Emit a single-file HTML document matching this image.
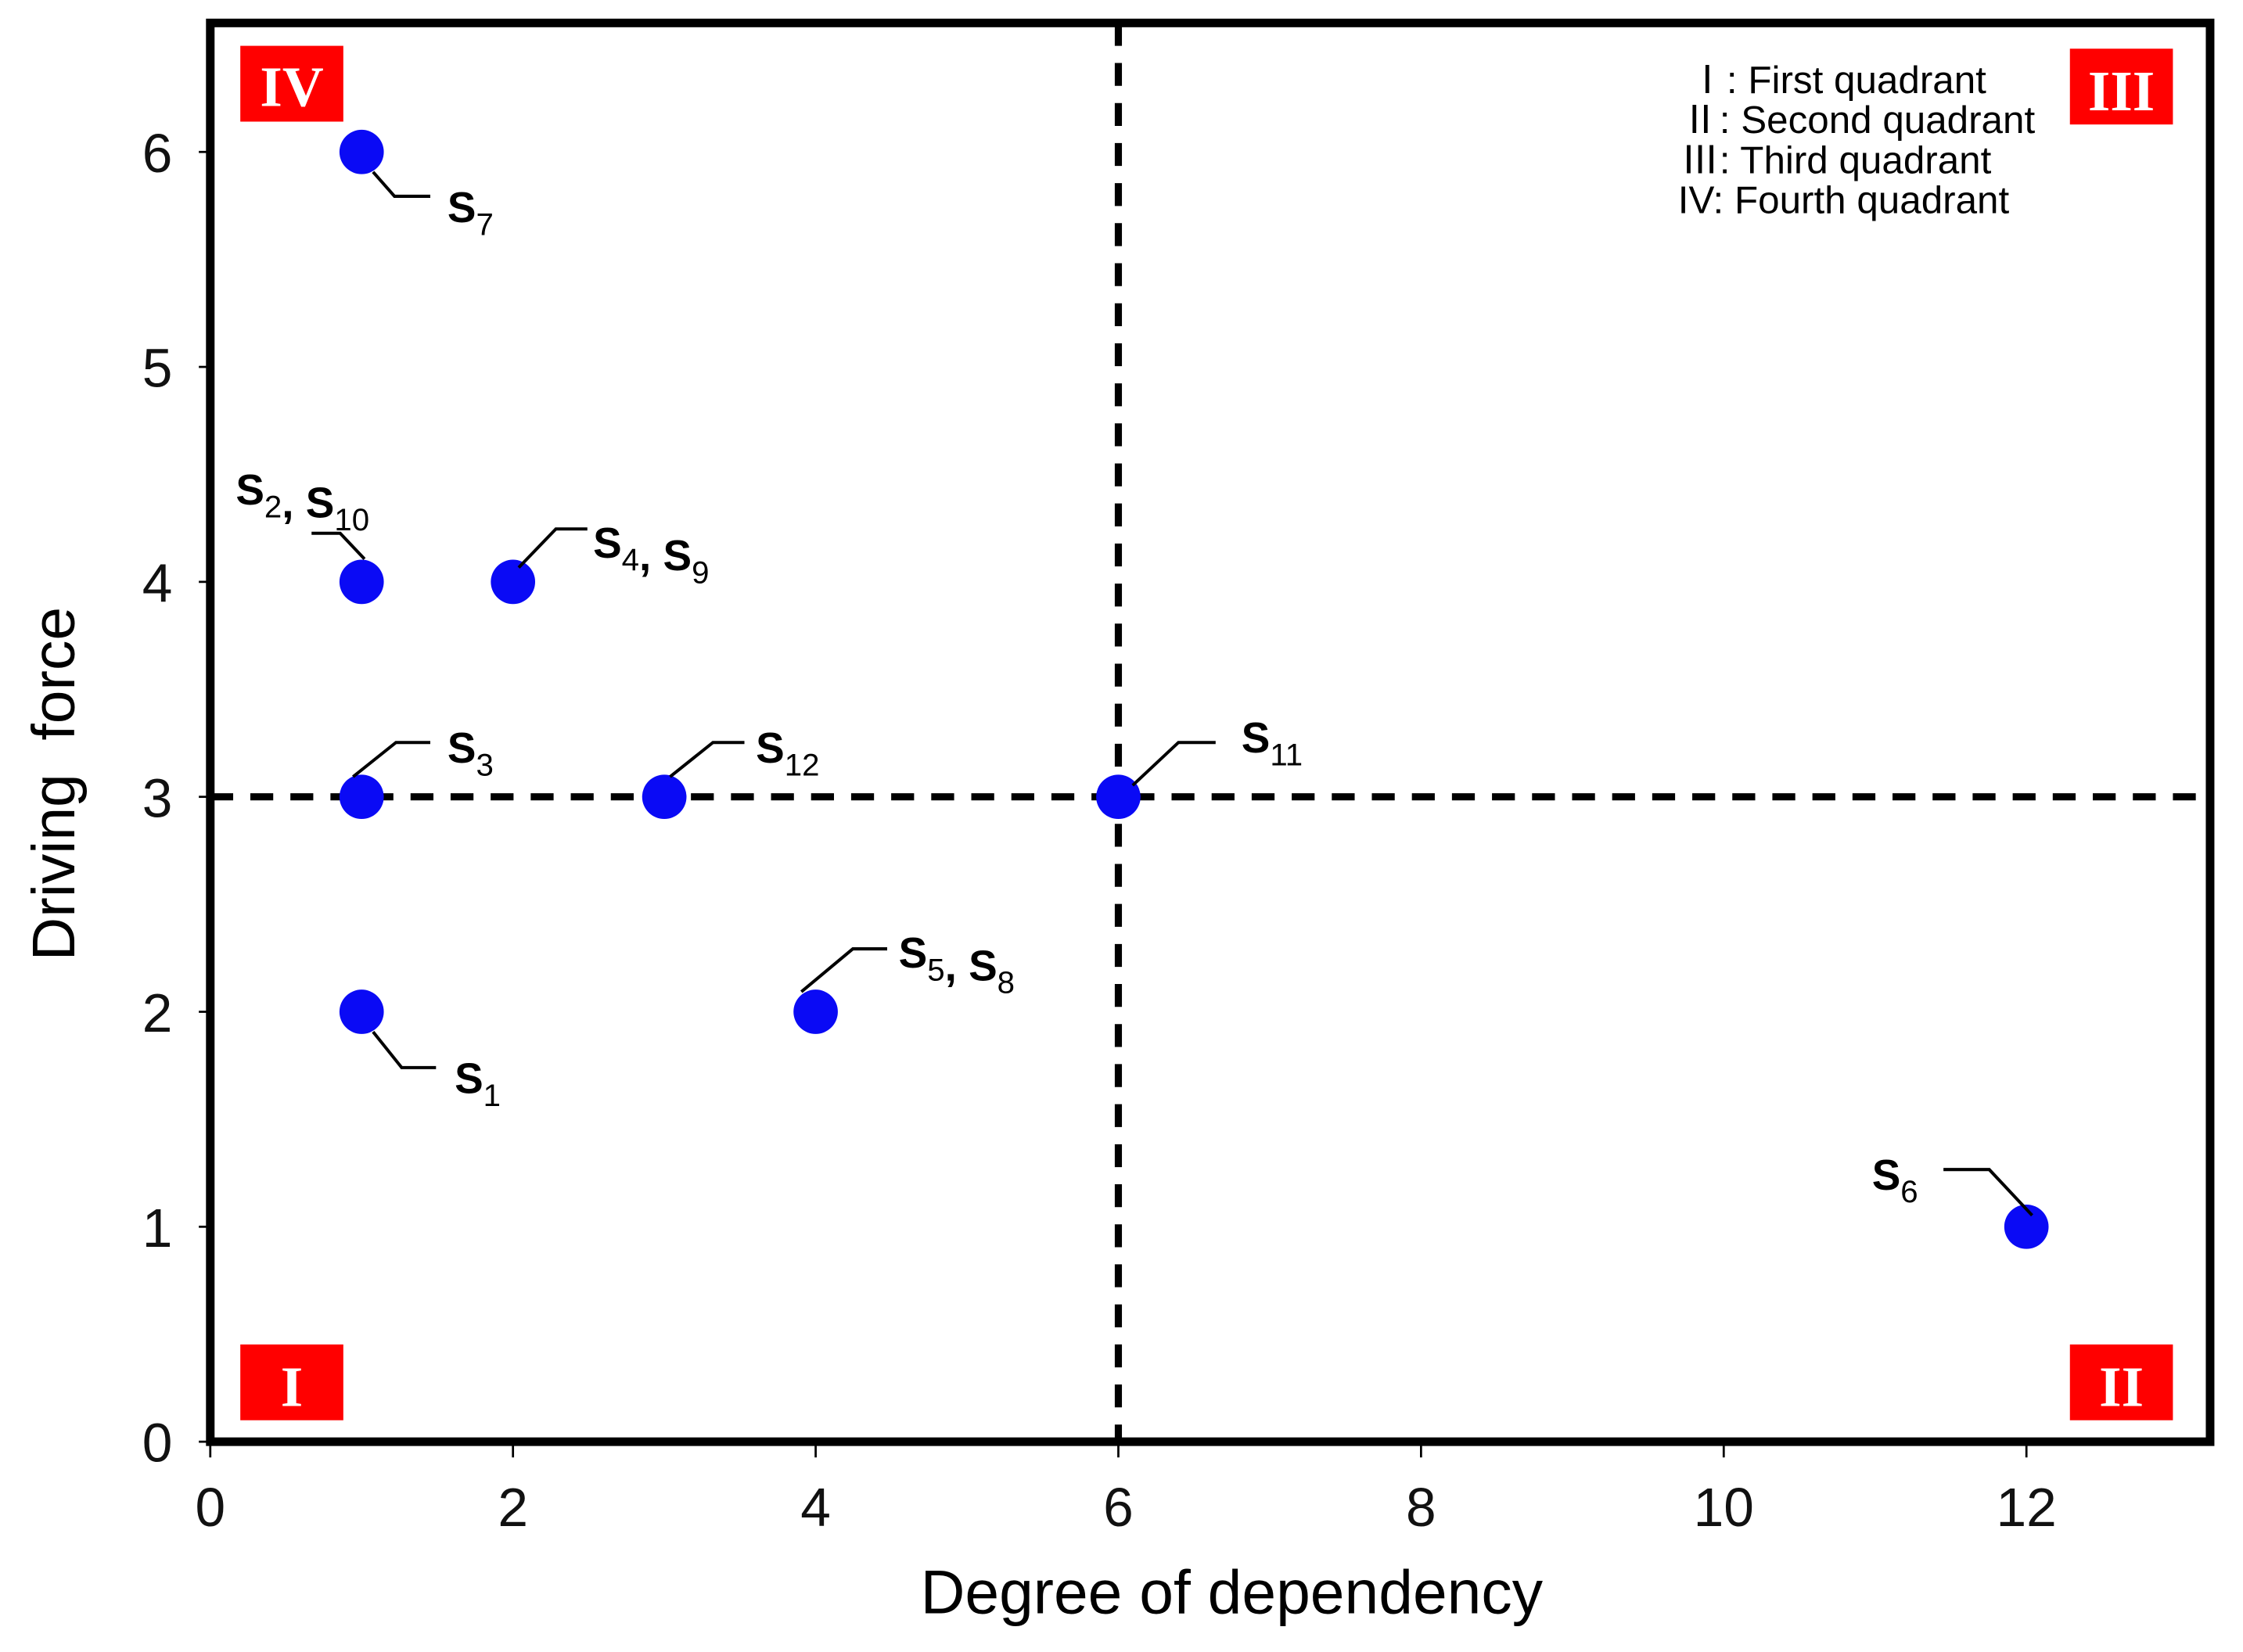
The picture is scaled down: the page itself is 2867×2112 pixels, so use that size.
<!DOCTYPE html>
<html><head><meta charset="utf-8"><style>
html,body{margin:0;padding:0;background:#fff}
svg{display:block}
text{font-family:"Liberation Sans","Noto Sans CJK SC",sans-serif}
</style></head><body>
<svg id="chart" width="2867" height="2112" viewBox="0 0 1568 1155" xmlns="http://www.w3.org/2000/svg">
<rect x="0" y="0" width="1568" height="1155" fill="#fff"/>
<g id="grid"></g>
<g id="marks"></g>
<g id="labels"></g>
<rect x="147" y="16" width="1398" height="992" fill="none" stroke="#000" stroke-width="6"/>
<g><rect x="168" y="32" width="72" height="53" fill="#f00"/><text x="204" y="74" text-anchor="middle" fill="#fff" font-size="40" font-weight="bold" style="font-family:'Liberation Serif',serif">IV</text></g>
<g><rect x="1447" y="34" width="72" height="53" fill="#f00"/><text x="1483" y="77" text-anchor="middle" fill="#fff" font-size="40" font-weight="bold" style="font-family:'Liberation Serif',serif">III</text></g>
<g><rect x="168" y="940" width="72" height="53" fill="#f00"/><text x="204" y="983" text-anchor="middle" fill="#fff" font-size="40" font-weight="bold" style="font-family:'Liberation Serif',serif">I</text></g>
<g><rect x="1447" y="940" width="72" height="53" fill="#f00"/><text x="1483" y="983" text-anchor="middle" fill="#fff" font-size="40" font-weight="bold" style="font-family:'Liberation Serif',serif">II</text></g>
<g font-size="27" fill="#000">
<text x="1180" y="65">Ⅰ: First quadrant</text>
<text x="1175" y="93">Ⅱ: Second quadrant</text>
<text x="1175" y="121">Ⅲ: Third quadrant</text>
<text x="1173" y="149">IV: Fourth quadrant</text>
</g>
<text x="861" y="1128" text-anchor="middle" font-size="43">Degree of dependency</text>
<text transform="translate(52,548) rotate(-90)" text-anchor="middle" font-size="42" xml:space="preserve">Driving  force</text>
</svg>
<script>
const xTicks = [0, 2, 4, 6, 8, 10, 12];
const yTicks = [0, 1, 2, 3, 4, 5, 6];
const pointNames = ["S7", "S2,S10", "S4,S9", "S3", "S12", "S11", "S1", "S5,S8", "S6"];
const pointX = [1, 1, 2, 1, 3, 6, 1, 4, 12];
const pointY = [6, 4, 4, 3, 3, 3, 2, 2, 1];
const thresholdX = 6;
const thresholdY = 3;

const NS = "http://www.w3.org/2000/svg";
const X0 = 147, XU = 105.8, Y0 = 1008, YU = 150.3;
function sx(v){ return X0 + v * XU; }
function sy(v){ return Y0 - v * YU; }
function mk(tag, attrs, parent){
  const e = document.createElementNS(NS, tag);
  for (const k in attrs) e.setAttribute(k, attrs[k]);
  parent.appendChild(e);
  return e;
}
const grid = document.getElementById('grid');
const marks = document.getElementById('marks');
const labels = document.getElementById('labels');

xTicks.forEach(v => {
  const t = mk('line', {x1: sx(v), x2: sx(v), y1: 1008, y2: 1019, stroke: '#000', 'stroke-width': 1.5}, grid);
  
  
  const l = mk('text', {x: sx(v), y: 1067, 'text-anchor': 'middle', 'font-size': 38, fill: '#111'}, grid);
  l.textContent = v;
  
  
});
yTicks.forEach(v => {
  const t = mk('line', {x1: 139, x2: 147, y1: sy(v), y2: sy(v), stroke: '#000', 'stroke-width': 1.5}, grid);
  
  
  const l = mk('text', {x: 110, y: sy(v) + 14, 'text-anchor': 'middle', 'font-size': 38, fill: '#111'}, grid);
  l.textContent = v;
  
  
});
const hl = mk('line', {x1: 147, x2: 1545, y1: sy(thresholdY), y2: sy(thresholdY), stroke: '#000', 'stroke-width': 5, 'stroke-dasharray': '16 12'}, grid);


const vl = mk('line', {x1: sx(thresholdX), x2: sx(thresholdX), y1: 16, y2: 1008, stroke: '#000', 'stroke-width': 5, 'stroke-dasharray': '16 12'}, grid);



const leaders = {
  "S7":     {p: [[8,14],[23,31],[48,31]], lx: 60, ly: 49},
  "S2,S10": {p: [[2,-16],[-15,-34],[-35,-34]], lx: -88, ly: -54},
  "S4,S9":  {p: [[4,-10],[30,-37],[52,-37]], lx: 56, ly: -17},
  "S3":     {p: [[-6,-14],[24,-38],[48,-38]], lx: 60, ly: -24},
  "S12":    {p: [[4,-14],[34,-38],[56,-38]], lx: 64, ly: -24},
  "S11":    {p: [[10,-8],[42,-38],[68,-38]], lx: 86, ly: -31},
  "S1":     {p: [[8,14],[28,39],[52,39]], lx: 65, ly: 57},
  "S5,S8":  {p: [[-10,-14],[26,-44],[50,-44]], lx: 58, ly: -31},
  "S6":     {p: [[4,-8],[-26,-40],[-58,-40]], lx: -108, ly: -26}
};
function addLabel(name, x, y){
  const t = mk('text', {x: x, y: y, 'font-size': 30, 'font-weight': 'bold', fill: '#000'}, labels);
  
  
  const parts = name.split(',');
  parts.forEach((p, i) => {
    const s = mk('tspan', {}, t); s.textContent = (i ? ', ' : '') + 'S';
    const sub = mk('tspan', {dy: 9, 'font-size': 22, 'font-weight': 'normal'}, t); sub.textContent = p.slice(1);
    const back = mk('tspan', {dy: -9}, t); back.textContent = '';
  });
}
pointNames.forEach((n, i) => {
  const cx = sx(pointX[i]), cy = sy(pointY[i]);
  const L = leaders[n];
  const pl = mk('polyline', {points: L.p.map(q => (cx + q[0]) + ',' + (cy + q[1])).join(' '), fill: 'none', stroke: '#000', 'stroke-width': 2.2}, labels);
  
  
  const c = mk('circle', {cx: cx, cy: cy, r: 15.5, fill: '#0a0af5'}, marks);
  
  
  addLabel(n, cx + L.lx, cy + L.ly);
});
</script>
</body></html>
